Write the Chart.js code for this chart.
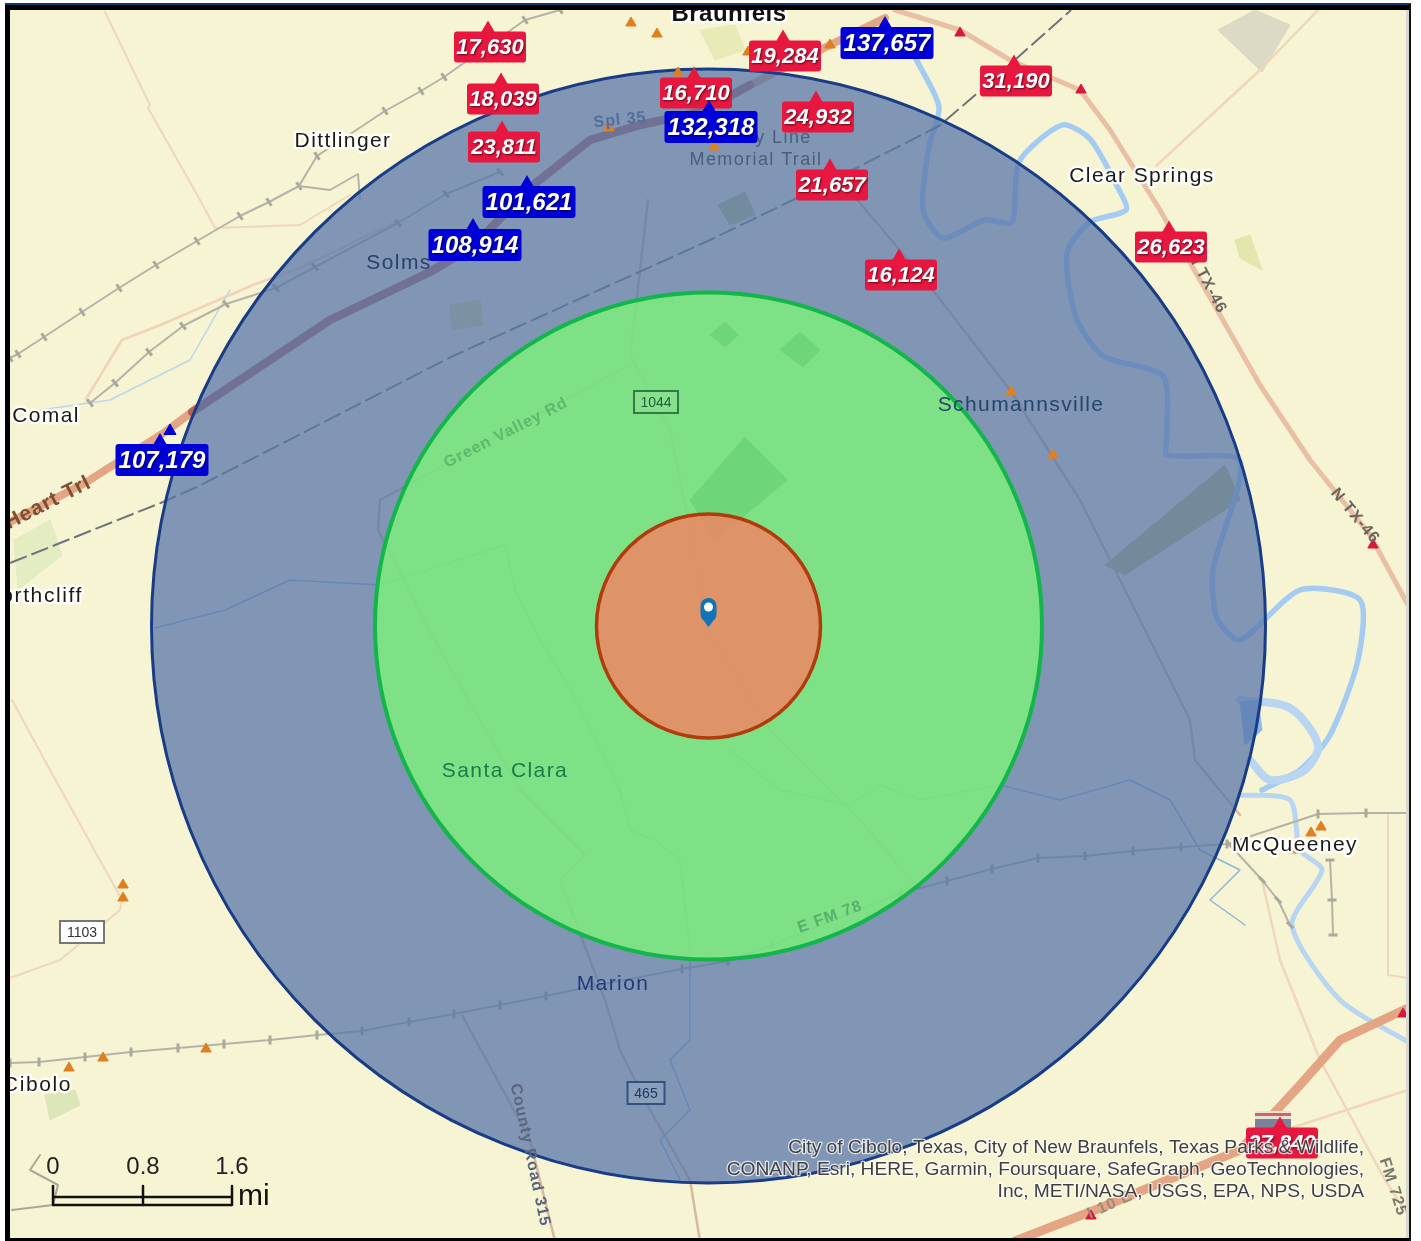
<!DOCTYPE html>
<html><head><meta charset="utf-8">
<style>html,body{margin:0;padding:0;background:#fff}canvas{display:block;filter:blur(0.5px)}</style>
<script src="https://cdn.jsdelivr.net/npm/chart.js@4/dist/chart.umd.min.js"></script>
</head><body><canvas id="c" width="1421" height="1241"></canvas>
<script>
// ---- data (map pixel coordinates) ----
const ringCenter=[708.5,626];
const ringRadii=[557,333.5,112];
const trafficValues=[17630,18039,23811,101621,108914,107179,16710,132318,19284,137657,24932,31190,21657,16124,26623,27840];
const trafficX=[490,503,504,529,475,162,696,711,785,887,818,1016,832,901,1171,1282];
const trafficY=[47,99,147,202,245,460,93,127,56,43,117,81,185,275,247,1143];
const highCount=100000;
const placeNames=["Dittlinger","Solms","Comal","Clear Springs","Schumannsville","Santa Clara","Marion","McQueeney","County Line","Memorial Trail"];
const placeX=[343,399,46,1142,1021,505,613,1295,756,756];
const placeY=[141,263,416,176,405,771,984,845,138,160];
const placeInk=["#1a1a1a","#2a3f6c","#1a1a1a","#1a1a1a","#25456a","#1c7a4a","#22397a","#1a1a1a","#4a5f7d","#4a5f7d"];
const placeHalo=[0.85,0,0.85,0.85,0,0,0,0.95,0,0];
const clippedNames=["Northcliff","Cibolo"];
const clippedRight=[83,72];
const clippedY=[596,1085];
const roadNames=["Heart Trl","Green Valley Rd","County Road 315","E FM 78","N TX-46","N TX-46","FM 725","I 10 E","Spl 35"];
const roadNameX=[48,506,530,830,1355,1207,1393,1110,620];
const roadNameY=[503,433,1155,917,516,283,1187,1205,120];
const roadNameAngle=[-27,-27,78,-20,50,62,72,-24,-6];
const roadNameInk=["#7a4f35","#5cb86e","#5c6580","#58b06c","#6b6660","#6b6660","#77776c","#a08a78","#556d9a"];
const shieldNames=["1044","465","1103"];
const shieldX=[656,646,82];
const shieldY=[402,1093,932];
const shieldWidth=[44,37,44];
const shieldFill=["#86e08c","#8a9fbc","#ffffff"];
const shieldEdge=["#2f7a45","#33507f","#777777"];
const shieldInk=["#245c36","#22365f","#333333"];
const scaleLabels=["0","0.8","1.6"];
const scaleX=[53,143,232];
const creditLines=["City of Cibolo, Texas, City of New Braunfels, Texas Parks & Wildlife,","CONANP, Esri, HERE, Garmin, Foursquare, SafeGraph, GeoTechnologies,","Inc, METI/NASA, USGS, EPA, NPS, USDA"];

const highwayOuterW=[[10,522],[85,483],[165,432],[192,412]];
const highwayInner=[[192,412],[300,340],[330,320],[430,272],[475,245],[527,190],[590,140],[640,125],[700,112],[750,85]];
const highwayOuterN=[[750,85],[830,45],[885,18]];
const highwayI10=[[1015,1241],[1100,1208],[1240,1150],[1300,1085],[1340,1040],[1408,1008]];
const roadTx46=[[895,10],[960,30],[1010,60],[1080,90],[1110,130],[1160,210],[1200,280],[1260,385],[1310,460],[1370,535],[1408,605]];
const powerLine=[[10,563],[163,502],[199,486],[453,356],[710,240],[797,198],[939,126],[980,91],[1071,10]];
const railA=[[10,358],[18,354],[44,337],[82,312],[119,288],[156,265],[197,241],[240,216],[269,202],[299,186],[317,156],[385,111],[421,91],[444,77],[525,20],[560,10]];
const railB=[[90,403],[115,383],[149,352],[183,326],[226,304],[276,288],[315,267],[398,223],[446,194],[500,172]];
const railC=[[10,1063],[39,1062],[85,1057],[131,1052],[178,1048],[224,1044],[270,1040],[317,1035],[362,1031],[409,1022],[454,1014],[500,1005],[546,996],[593,986],[682,969],[728,961],[772,945],[901,893],[947,881],[992,869],[1038,858],[1085,856],[1133,851],[1181,847],[1227,844],[1318,814],[1366,813],[1408,813]];
const railD=[[1230,845],[1262,880],[1278,900],[1290,925]];
const railE=[[1330,860],[1332,900],[1333,935]];
const yardSpur=[[299,186],[330,190],[358,174],[360,200]];
const fm1044=[[648,200],[632,340],[630,355],[670,430],[690,530],[708,630],[770,730],[860,820],[915,885]];
const greenValley=[[630,365],[380,500],[378,530],[440,650],[520,790],[585,855],[560,880],[590,960],[605,1000],[620,1050],[650,1110],[690,1180],[700,1241]];
const countyRoad=[[462,1015],[530,1140],[555,1241]];
const eastRoad=[[832,170],[925,280],[1010,390],[1080,500],[1115,570],[1190,720],[1195,760],[1240,815]];
const westRoadTop=[[105,12],[150,105],[148,108],[200,200],[215,228],[300,225],[350,195]];
const westRoadLow=[[12,700],[50,770],[122,900],[120,910],[60,960],[10,978]];
const southRoad=[[1262,880],[1280,960],[1320,1060],[1385,1180],[1408,1215]];
const crossRoad=[[1285,1130],[1408,1090]];
const northRoad=[[1156,166],[1259,71],[1318,10]];
const eastFm=[[1388,815],[1388,975],[1408,978]];
const pinkRoad=[[86,399],[122,340],[158,326],[253,285],[300,268],[400,220]];
const guadalupe=[[916,59],[939,107],[929,146],[923,210],[943,238],[984,220],[1012,222],[1019,162],[1062,125],[1090,139],[1117,186],[1126,210],[1090,222],[1067,253],[1076,317],[1103,356],[1163,376],[1167,436],[1167,455],[1240,461],[1213,570],[1217,618],[1240,640],[1300,590],[1360,600],[1358,660],[1330,735],[1300,770],[1262,790]];
const riverLoop=[[1240,700],[1290,708],[1318,745],[1305,770],[1270,780],[1250,760]];
const riverSouth=[[1240,795],[1290,800],[1300,850],[1322,870],[1292,925],[1340,1000],[1408,1042]];
const lake=[[1240,702],[1258,700],[1262,730],[1245,745]];
const creekA=[[155,628],[225,610],[290,580],[380,585],[505,545],[515,590],[540,640],[565,680],[585,720],[620,790],[630,830],[655,840],[680,860],[690,950],[690,1040],[670,1060],[690,1110],[660,1140],[680,1180]];
const creekB=[[730,750],[780,790],[850,805],[880,785],[920,800],[1000,785],[1060,800],[1130,780],[1170,800],[1200,850],[1240,870],[1210,900],[1245,925]];
const creekC=[[40,1155],[30,1170],[58,1185],[53,1205],[12,1210]];
const creekD=[[230,290],[190,360],[110,400],[40,410]];
const fieldCenter=[[690,500],[745,437],[787,480],[715,540]];
const fieldEast=[[1105,565],[1225,465],[1240,500],[1125,575]];
const fieldNorthA=[[780,350],[800,332],[820,350],[803,367]];
const fieldNorthB=[[710,335],[725,322],[738,335],[725,347]];
const fieldWest=[[450,305],[480,300],[483,325],[452,330]];
const fieldTop=[[718,205],[745,192],[755,215],[730,225]];
const fieldNE=[[1218,30],[1255,10],[1290,25],[1262,72]];
const parkA=[[1235,240],[1250,235],[1262,270],[1240,258]];
const parkB=[[14,540],[50,520],[62,555],[18,590]];
const parkC=[[45,1095],[75,1090],[80,1105],[50,1120]];
const parkD=[[700,30],[735,25],[745,50],[715,60]];
const scaleBarTop=[[53,1197],[232,1197]];
const scaleBarBottom=[[53,1205],[232,1205]];
const scaleTickA=[[53,1186],[53,1205]];
const scaleTickB=[[143,1186],[143,1205]];
const scaleTickC=[[232,1186],[232,1205]];
const orangeMarks=[[631,23],[657,34],[748,52],[830,45],[609,128],[678,73],[714,147],[1053,455],[1011,392],[123,885],[123,898],[69,1068],[103,1058],[206,1049],[1311,833],[1321,827],[1294,850]];
const redMarks=[[960,33],[1081,90],[1373,545],[1403,1014],[1091,1216]];
const blueMarks=[[170,431]];

// ---- helpers ----
const pts=a=>a.map(p=>({x:p[0],y:p[1]}));
const line=(d,color,w,extra)=>Object.assign({type:'line',data:pts(d),borderColor:color,borderWidth:w,pointRadius:0,tension:0,fill:false,borderCapStyle:'round',borderJoinStyle:'round'},extra||{});
const field=(d,color)=>({type:'line',data:pts(d.concat([d[0]])),borderColor:color,backgroundColor:color,borderWidth:1,pointRadius:0,fill:'shape'});
const rail=(d,rot,extra)=>line(d,'#b4b4a6',2,Object.assign({pointStyle:'line',pointRadius:4.5,pointBorderWidth:3,pointBorderColor:'#a9a99c',pointRotation:rot},extra||{}));
const ring=(name,r,fill,stroke,w)=>({type:'bubble',label:name,data:[{x:ringCenter[0],y:ringCenter[1],r:r}],backgroundColor:fill,borderColor:stroke,borderWidth:w,hoverRadius:0});
const marks=(d,color,size,style)=>({type:'scatter',data:pts(d),backgroundColor:color,borderColor:color,pointStyle:style||'triangle',pointRadius:size,showLine:false});

const layers=[
 field(fieldNE,'#dcdac4'),field(parkA,'#e3e6ad'),field(parkB,'#e4ecc2'),field(parkC,'#dde6b8'),field(parkD,'#e8eab8'),
 field(fieldCenter,'#004a00'),field(fieldEast,'#c4c36e'),field(fieldNorthA,'#004a00'),field(fieldNorthB,'#004a00'),field(fieldWest,'#ecdf96'),field(fieldTop,'#c4c580'),
 line(westRoadTop,'#f0d6bc',2),line(westRoadLow,'#f0d6bc',2),line(southRoad,'#f0d6bc',2.5),line(crossRoad,'#f0d6bc',2.5),line(northRoad,'#f0d6bc',2.5),line(eastFm,'#f0d6bc',2),line(pinkRoad,'#f2d2b8',2.5),
 line(fm1044,'#d8b9a0',2.5),line(greenValley,'#d8b9a0',2.5),line(countyRoad,'#d8b9a0',2.5),line(eastRoad,'#d8b9a0',2.5),
 line(creekA,'#8fb6dc',1.5),line(creekB,'#8fb6dc',1.5),line(creekC,'#a8a89a',2),line(creekD,'#bcd6ea',1.5),
 line(guadalupe,'#a4cbf2',5.5,{tension:0.25}),line(riverLoop,'#b8d6f2',8,{tension:0.3}),line(riverSouth,'#b8d6f2',5,{tension:0.25}),field(lake,'#8fb8ea'),
 rail(railA,57),rail(railB,50),rail(railC,90),rail(railD,45),rail(railE,0),line(yardSpur,'#b4b4a6',2),
 line(highwayOuterW,'#e3a583',8),line(highwayOuterN,'#e3a583',8),line(highwayI10,'#e3a583',9),line(roadTx46,'#e9c0a4',5),
 line(powerLine,'#6f7478',2,{borderDash:[18,5],borderCapStyle:'butt'}),
 line(highwayInner,'#bb5f58',8.5),
 ring('blue ring',ringRadii[0],'rgba(88,119,170,0.75)','#183c86',3),
 ring('green ring',ringRadii[1],'rgba(125,249,117,0.75)','#12b64a',4),
 ring('orange ring',ringRadii[2],'rgba(248,127,97,0.8)','#b03c0c',3.5),
 marks(orangeMarks,'#e07f20',6),marks(redMarks,'#d9183f',6),marks(blueMarks,'#0000d8',7),
 line(scaleBarTop,'#111',2.5,{borderCapStyle:'butt'}),line(scaleBarBottom,'#111',2.5,{borderCapStyle:'butt'}),
 line(scaleTickA,'#111',2.5,{borderCapStyle:'butt'}),line(scaleTickB,'#111',2.5,{borderCapStyle:'butt'}),line(scaleTickC,'#111',2.5,{borderCapStyle:'butt'})
];
layers.forEach((d,i)=>{d.order=layers.length-i;});

const SANS='"Liberation Sans",Arial,sans-serif';
function halo(ctx,txt,x,y,col,font,sp,strength){
 ctx.save();ctx.font=font;ctx.letterSpacing=sp||'0px';ctx.lineJoin='round';
 if(strength){ctx.strokeStyle='rgba(255,255,255,'+strength+')';ctx.lineWidth=5;ctx.strokeText(txt,x,y);}
 ctx.fillStyle=col;ctx.fillText(txt,x,y);ctx.restore();
}
const mapLayer={id:'mapLayer',
 beforeDatasetsDraw(chart){
  const {ctx,scales:{x,y}}=chart;
  ctx.save();ctx.fillStyle='#f7f4d3';ctx.fillRect(x.getPixelForValue(0),y.getPixelForValue(0),x.getPixelForValue(1421),y.getPixelForValue(1241));ctx.restore();
 },
 afterDatasetsDraw(chart){
  const {ctx,scales:{x,y}}=chart;
  ctx.save();
  ctx.textAlign='center';ctx.textBaseline='middle';
  // road names
  roadNames.forEach((t,i)=>{
   ctx.save();ctx.translate(x.getPixelForValue(roadNameX[i]),y.getPixelForValue(roadNameY[i]));ctx.rotate(roadNameAngle[i]*Math.PI/180);
   const big=i===0;halo(ctx,t,0,0,roadNameInk[i],'bold '+(big?21:16)+'px '+SANS,'1px',0);ctx.restore();
  });
  // route shields
  shieldNames.forEach((t,i)=>{
   const px=x.getPixelForValue(shieldX[i]),py=y.getPixelForValue(shieldY[i]),w=shieldWidth[i];
   ctx.fillStyle=shieldFill[i];ctx.strokeStyle=shieldEdge[i];ctx.lineWidth=2;ctx.fillRect(px-w/2,py-11,w,22);ctx.strokeRect(px-w/2,py-11,w,22);
   ctx.fillStyle=shieldInk[i];ctx.font='14px '+SANS;ctx.fillText(t,px,py+1);
  });
  // place names
  placeNames.forEach((t,i)=>{
   halo(ctx,t,x.getPixelForValue(placeX[i]),y.getPixelForValue(placeY[i]),placeInk[i],(i>7?'18':'21')+'px '+SANS,'1.4px',placeHalo[i]);
  });
  ctx.textAlign='right';
  clippedNames.forEach((t,i)=>halo(ctx,t,x.getPixelForValue(clippedRight[i]),y.getPixelForValue(clippedY[i]),'#1a1a1a','21px '+SANS,'1.6px',0.9));
  ctx.textAlign='center';
  halo(ctx,'Braunfels',x.getPixelForValue(729),y.getPixelForValue(14),'#111','bold 24px '+SANS,'0.5px',0.95);
  // highway shield behind the hidden count
  const sx=x.getPixelForValue(1255),sy=y.getPixelForValue(1111);
  ctx.fillStyle='#e8e2d4';ctx.fillRect(sx,sy,36,18);ctx.fillStyle='#d4606a';ctx.fillRect(sx,sy+2,36,3);ctx.fillStyle='#7c8298';ctx.fillRect(sx,sy+8,36,10);
  // traffic count tags
  trafficValues.forEach((v,i)=>{
   const hi=v>=highCount,w=hi?93:72,h=hi?32:31,col=hi?'#0000d8':'#e8173f';
   const px=x.getPixelForValue(trafficX[i]),py=y.getPixelForValue(trafficY[i]);
   ctx.fillStyle=col;ctx.beginPath();ctx.roundRect(px-w/2,py-h/2,w,h,3);ctx.fill();
   ctx.beginPath();ctx.moveTo(px-2-7,py-h/2+1);ctx.lineTo(px-2,py-h/2-11);ctx.lineTo(px-2+7,py-h/2+1);ctx.closePath();ctx.fill();
   ctx.save();ctx.shadowColor='rgba(0,0,0,0.6)';ctx.shadowBlur=2;ctx.shadowOffsetX=1;ctx.shadowOffsetY=1;
   ctx.fillStyle='#fff';ctx.font='italic bold '+(hi?24:22)+'px '+SANS;ctx.fillText(v.toLocaleString('en-US'),px,py+1);ctx.restore();
  });
  // centre pin
  const cx=x.getPixelForValue(708.5),cy=y.getPixelForValue(611);
  ctx.fillStyle='#1173b8';ctx.beginPath();ctx.roundRect(cx-8,cy-13,16,24,8);ctx.fill();
  ctx.beginPath();ctx.moveTo(cx-7.5,cy+6);ctx.lineTo(cx,cy+16);ctx.lineTo(cx+7.5,cy+6);ctx.closePath();ctx.fill();
  ctx.fillStyle='#fff';ctx.beginPath();ctx.arc(cx,cy-4,4.5,0,Math.PI*2);ctx.fill();
  // scale bar texts
  ctx.fillStyle='#222';ctx.font='24px '+SANS;
  scaleLabels.forEach((t,i)=>ctx.fillText(t,x.getPixelForValue(scaleX[i]),y.getPixelForValue(1167)));
  ctx.textAlign='left';ctx.font='30px '+SANS;ctx.fillStyle='#111';ctx.fillText('mi',x.getPixelForValue(238),y.getPixelForValue(1197));
  // attribution
  ctx.textAlign='right';
  creditLines.forEach((t,i)=>{
   const px=x.getPixelForValue(1364),py=y.getPixelForValue(1148+22*i);
   ctx.font='19.2px '+SANS;ctx.lineJoin='round';ctx.strokeStyle='rgba(255,255,255,0.75)';ctx.lineWidth=2.5;ctx.strokeText(t,px,py);ctx.fillStyle='#404040';ctx.fillText(t,px,py);
  });
  // frame
  const L=x.getPixelForValue(0),T=y.getPixelForValue(0),W=x.getPixelForValue(1421),H=y.getPixelForValue(1241);
  ctx.fillStyle='#fff';ctx.fillRect(L,T,W,4);ctx.fillRect(L,T,5,H);ctx.fillRect(1411,T,W-1411,H);
  ctx.fillStyle='#000';ctx.fillRect(5,4,1406,6);ctx.fillRect(5,4,5,1237);ctx.fillRect(5,1238,1406,3);
  ctx.fillStyle='#0c3a66';ctx.fillRect(5,3,1406,2);
  ctx.fillStyle='#d8d8d0';ctx.fillRect(1406,10,3,1228);
  ctx.fillStyle='#111';ctx.fillRect(1409,4,2,1237);
  ctx.restore();
 }
};
new Chart(document.getElementById('c'),{
 type:'scatter',
 data:{datasets:layers},
 plugins:[mapLayer],
 options:{responsive:false,animation:false,events:[],devicePixelRatio:1,
  layout:{padding:0,autoPadding:false},
  plugins:{legend:{display:false},tooltip:{enabled:false},title:{display:false}},
  scales:{x:{type:'linear',min:0,max:1421,display:false},y:{type:'linear',min:0,max:1241,reverse:true,display:false}}
 }
});
</script></body></html>
